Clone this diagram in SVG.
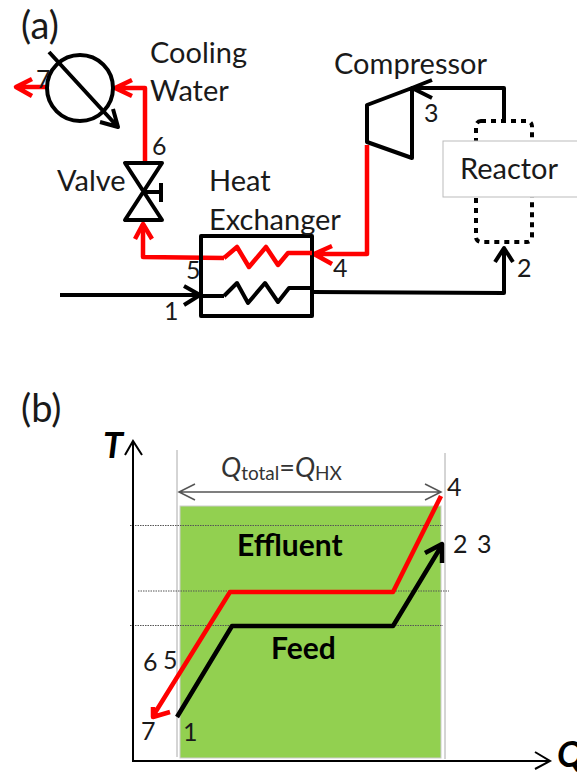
<svg xmlns="http://www.w3.org/2000/svg" width="577" height="773" viewBox="0 0 577 773">
<style>
text{font-family:"Lato","Open Sans","Liberation Sans",sans-serif;fill:#1a1a1a}
.t{font-size:29px}
.n{font-size:25px}
.p{font-size:38px}
.b{font-size:30px;font-weight:bold;fill:#000}
.ax{font-size:36px;font-weight:bold;font-style:italic;fill:#000}
.k{fill:none;stroke:#000;stroke-width:4;stroke-linejoin:round}
.r{fill:none;stroke:#f00;stroke-width:4.5;stroke-linejoin:round}
.thin{fill:none;stroke:#000;stroke-width:2}
.g{fill:none;stroke:#555;stroke-width:1.5}
.d{fill:none;stroke:#555;stroke-width:1;stroke-dasharray:1.5 1}
.v{fill:none;stroke:#aaa;stroke-width:1}
</style>
<rect width="577" height="773" fill="#fff"/>
<text class="p" x="21" y="39">(a)</text>
<text class="p" x="21" y="422">(b)</text>

<g id="green-area"><rect x="180" y="506" width="261" height="252" fill="#92d050" stroke="#ccc" stroke-width="1"/></g>

<g id="connectors">
<path class="r" d="M49 87H16M32 79L16 87L32 96"/>
<path class="r" d="M145 161V88H115M132 80L115 88L132 96"/>
<path class="r" d="M143 224V257L224 258"/>
<path class="r" d="M135 239L143 224L152 239"/>
<path class="r" d="M367 145V254H314M332 246L314 254L332 264"/>
<path class="k" d="M60 295H200M184 286L200 295L184 305"/>
<path class="k" d="M200 296H224"/>
<path class="k" d="M312 292L504 293V248M495 262L504 248L513 262"/>
<path class="k" d="M504 121V88H412M432 80L412 88L432 98"/>
</g>

<g id="cooler">
<circle class="k" cx="80" cy="88" r="33"/>
<path class="k" d="M49 52L117 126M100 122L118 127L113 109"/>
<text class="n" x="36" y="88">7</text>
</g>
<g id="cooling-water-label"><text class="t" x="150" y="63">Cooling</text><text class="t" x="150" y="101">Water</text></g>
<g id="valve">
<path class="k" d="M125 163H162L125 220H162Z"/>
<path class="k" d="M143 192H161M161 183V202"/>
<text class="t" x="57" y="191">Valve</text>
<text class="n" x="152" y="155">6</text>
</g>
<g id="heat-exchanger">
<rect class="k" x="201" y="236" width="111" height="80"/>
<path class="r" d="M224 258L237 247L249 267L266 247L278 265L288 253H312"/>
<path class="k" d="M224 296L237 283L248 303L265 283L278 302L289 288H312"/>
<text class="t" x="209" y="191">Heat</text>
<text class="t" x="209" y="230">Exchanger</text>
<text class="n" x="186" y="279">5</text>
<text class="n" x="164" y="320">1</text>
<text class="n" x="333" y="277">4</text>
</g>
<g id="compressor">
<path class="k" d="M367 105L412 88V158L367 142Z"/>
<text class="t" x="334" y="74">Compressor</text>
<text class="n" x="424" y="122">3</text>
</g>
<g id="reactor">
<rect x="476" y="121" width="56" height="121" rx="5" fill="none" stroke="#000" stroke-width="4" stroke-dasharray="5 5"/>
<rect x="443" y="141" width="140" height="56" fill="#fff" stroke="#bbb" stroke-width="1"/>
<text class="t" x="460" y="179">Reactor</text>
<text class="n" x="517" y="277">2</text>
</g>

<g id="chart">
<path class="v" d="M177 450V757M445 453V759"/>
<path class="d" d="M130 525.5H443M138 591H449M130 625.5H443"/>
<path class="thin" d="M133 762V442M125 455L133 441L142 455"/>
<path class="thin" d="M134 761H550M535 752L550 761L535 769"/>
<path class="g" d="M179 492H441M195 484L179 492L195 500M425 484L441 492L425 500"/>
<path class="k" style="stroke-width:4.5" d="M177 717L232 626H393L442 545M425 553L442 544L442 563"/>
<path class="r" d="M441 496L393 592H230L153 716M153 707L153 717L170 712"/>
<text class="ax" x="103" y="458">T</text>
<text class="ax" x="557" y="767">Q</text>
<text class="b" x="237" y="556">Effluent</text>
<text class="b" x="271" y="659">Feed</text>
<text x="221" y="477" style="font-size:27px;fill:#333"><tspan font-style="italic">Q</tspan><tspan font-size="19" dy="3">total</tspan><tspan dy="-3">=</tspan><tspan font-style="italic">Q</tspan><tspan font-size="19" dy="3">HX</tspan></text>
<text class="n" x="143" y="671">6</text>
<text class="n" x="163" y="669">5</text>
<text class="n" x="141" y="740">7</text>
<text class="n" x="183" y="741">1</text>
<text class="n" x="447" y="496">4</text>
<text class="n" x="453" y="553">2</text>
<text class="n" x="477" y="553">3</text>
</g>
</svg>
